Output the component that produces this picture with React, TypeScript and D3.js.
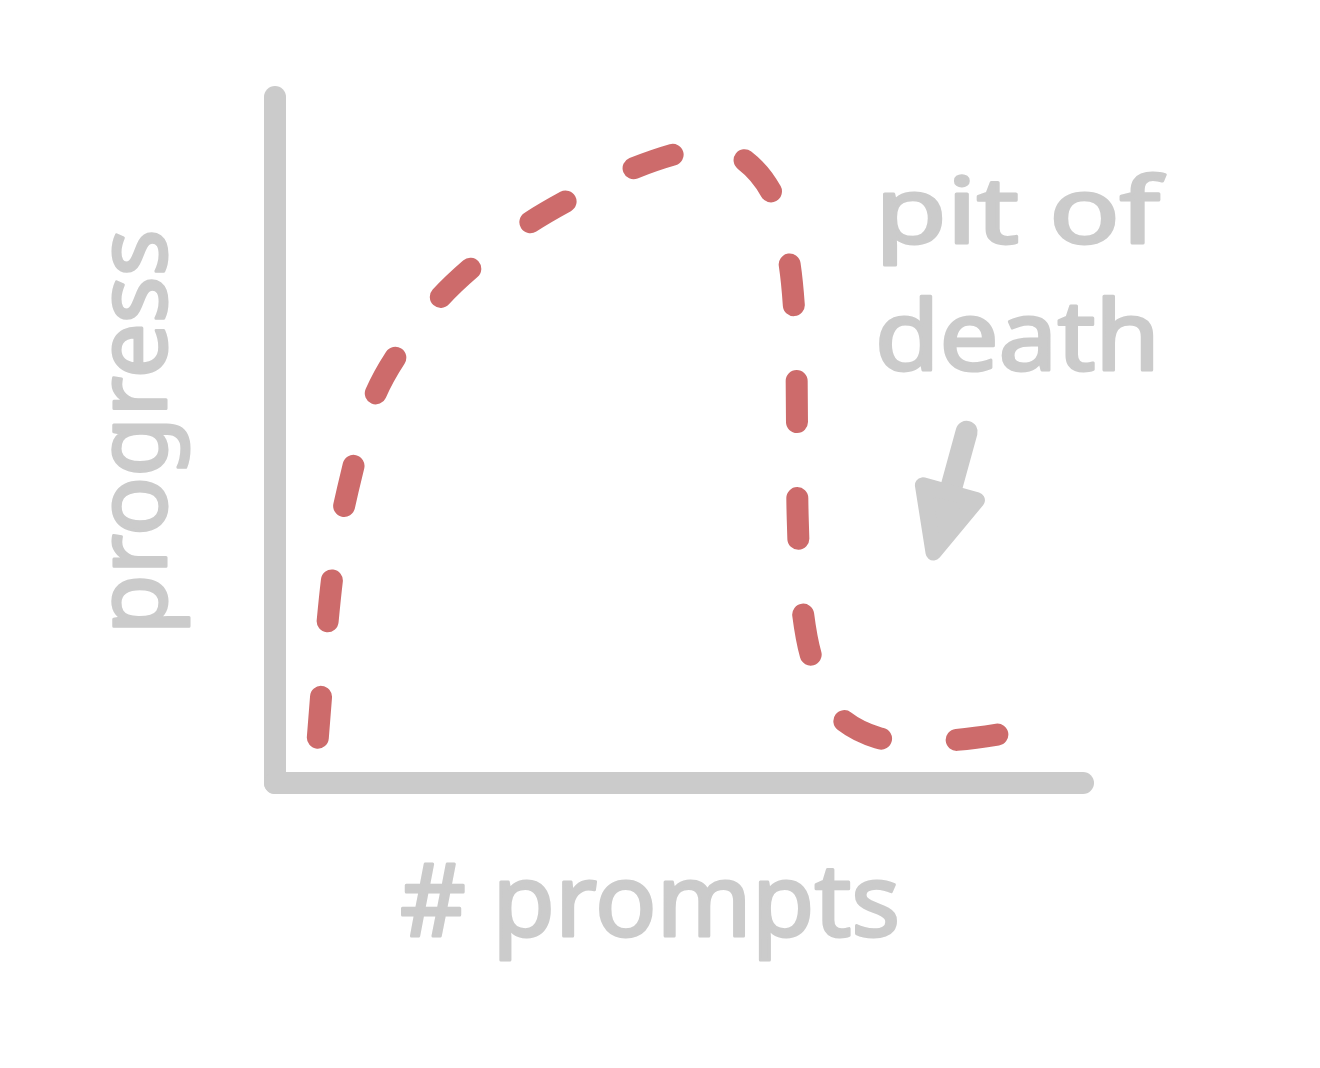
import React from "react";
import * as d3 from "d3";

// Data (sketch: progress vs number of prompts)
const promptsX = [5.3, 7.2, 9.0, 12.4, 15.5, 20.4, 25.1, 30.9, 36.8, 43.3, 49.9, 53.8, 57.5, 61.4, 63.5, 64.4, 64.6, 64.7, 65.3, 66.5, 69.3, 74.6, 82.3, 89.6];
const progressY = [6.6, 31, 42.7, 56.6, 63.1, 70.7, 75.9, 81.2, 85.3, 89.1, 91.8, 92.6, 91.3, 86.2, 77, 66, 52.9, 38.3, 25.2, 17.9, 10.3, 6.6, 6.1, 7.1];
const xAxisLabel = "# prompts";
const yAxisLabel = "progress";
const annotationLines = ["pit of", "death"];
const arrowFrom = [85.6, 51.2];
const arrowTo = [81.5, 33.6];

const W = 1320;
const H = 1068;
const GRAY = "#cbcbcb";
const RED = "#cd6b6b";
const FONT = "'Noto Sans', 'DejaVu Sans', sans-serif";

export default function App() {
  const x = d3.scaleLinear().domain([0, 100]).range([275, 1083]);
  const y = d3.scaleLinear().domain([0, 100]).range([783, 97]);
  const pts: [number, number][] = promptsX.map((v, i) => [x(v), y(progressY[i])]);
  const line = d3.line().curve(d3.curveCatmullRom.alpha(0.5));
  const d = line(pts) || "";

  // arrow
  const ax0 = x(arrowFrom[0]), ay0 = y(arrowFrom[1]);
  const ax1 = x(arrowTo[0]), ay1 = y(arrowTo[1]);
  const ang = Math.atan2(ay1 - ay0, ax1 - ax0);
  const headLen = 62;
  const headW = 28;
  const bx = ax1 - headLen * Math.cos(ang), by = ay1 - headLen * Math.sin(ang);
  const px = -Math.sin(ang), py = Math.cos(ang);
  const head = `M${ax1},${ay1} L${bx + px * headW},${by + py * headW} L${bx - px * headW},${by - py * headW} Z`;

  const textStyle = {
    fill: GRAY,
    stroke: GRAY,
    strokeWidth: 3,
    strokeLinejoin: "round" as const,
    fontFamily: FONT,
  };

  return (
    <svg width={W} height={H} style={{ position: "absolute", left: 0, top: 0, background: "#fff" }}>
      <rect width={W} height={H} fill="#fff" />
      {/* axes */}
      <line x1={x(0)} y1={y(100)} x2={x(0)} y2={y(0)} stroke={GRAY} strokeWidth={22} strokeLinecap="round" />
      <line x1={x(0)} y1={y(0)} x2={x(100)} y2={y(0)} stroke={GRAY} strokeWidth={22} strokeLinecap="round" />
      {/* curve */}
      <path d={d} fill="none" stroke={RED} strokeWidth={22} strokeLinecap="round" strokeLinejoin="round" strokeDasharray="41 75.8" />
      {/* axis labels */}
      <text x={650} y={936} textAnchor="middle" fontSize={100} textLength={500} lengthAdjust="spacingAndGlyphs" style={textStyle}>
        {xAxisLabel}
      </text>
      <text transform="translate(166,432) rotate(-90)" textAnchor="middle" fontSize={96} textLength={405} lengthAdjust="spacingAndGlyphs" style={textStyle}>
        {yAxisLabel}
      </text>
      {/* annotation */}
      <text x={875} y={243} fontSize={92} textLength={285} lengthAdjust="spacingAndGlyphs" style={textStyle}>
        {annotationLines[0]}
      </text>
      <text x={875} y={370} fontSize={96} textLength={285} lengthAdjust="spacingAndGlyphs" style={textStyle}>
        {annotationLines[1]}
      </text>
      <line x1={ax0} y1={ay0} x2={bx} y2={by} stroke={GRAY} strokeWidth={22} strokeLinecap="round" />
      <path d={head} fill={GRAY} stroke={GRAY} strokeWidth={16} strokeLinejoin="round" />
    </svg>
  );
}
